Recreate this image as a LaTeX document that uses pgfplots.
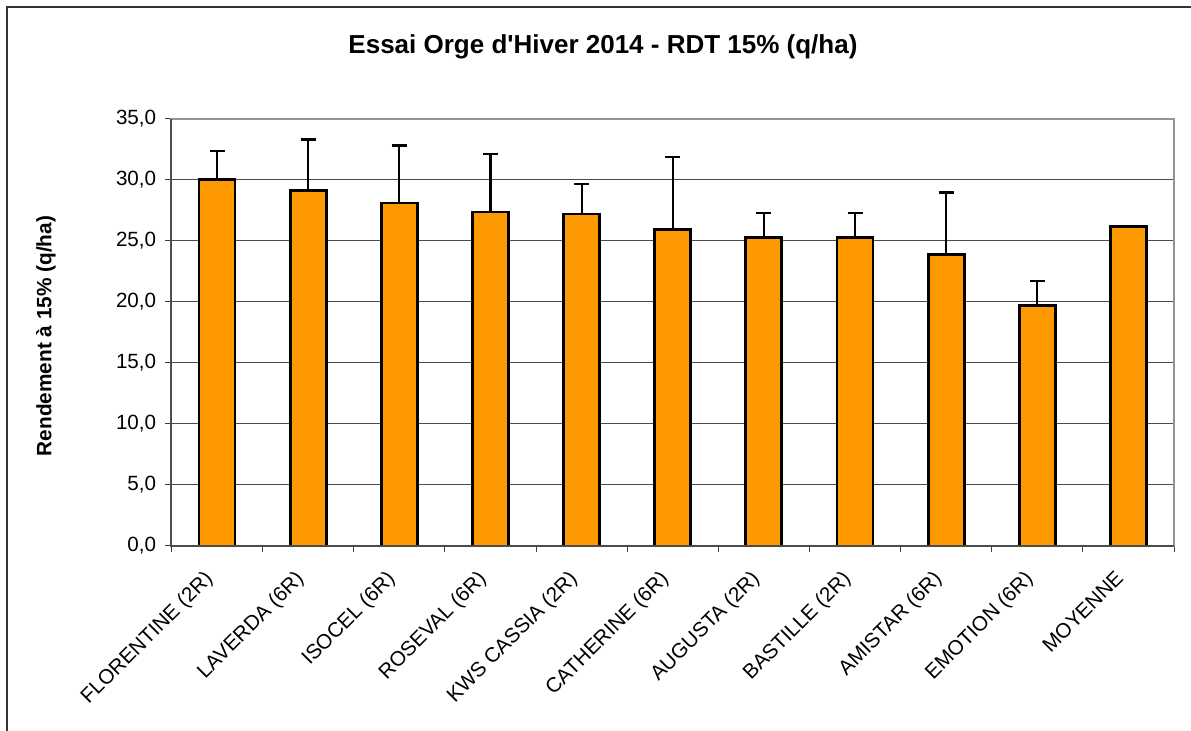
\documentclass[border=0pt]{standalone}
\usepackage{fontspec}
\setmainfont{Liberation Sans}
\usepackage{pgfplots}
\pgfplotsset{compat=1.18}
\usepackage{pgfplotstable}
\definecolor{barorange}{RGB}{255,153,0}
\pgfplotstableread{
x y e
0 30.00 2.35
1 29.10 4.20
2 28.10 4.70
3 27.35 4.75
4 27.20 2.45
5 25.95 5.90
6 25.27 2.03
7 25.27 2.03
8 23.90 5.05
9 19.67 2.03
}\varietes
\pgfplotstableread{
x y
10 26.18
}\moyenne
\begin{document}
\begin{tikzpicture}
\useasboundingbox (0,0) rectangle (595.5pt,365.5pt);
\fill[white] (0,0) rectangle (595.5pt,365.5pt);
\draw[line width=1pt, black!80] (3.35pt,-5pt) -- (3.35pt,362.2pt) -- (605pt,362.2pt);
\node[font=\fontsize{13}{15}\selectfont\bfseries] at (301.5pt,342pt) {Essai Orge d\textquotesingle Hiver 2014 - RDT 15\% (q/ha)};
\node[rotate=90, font=\fontsize{10.4}{12}\selectfont\bfseries] at (23pt,197.5pt) {Rendement à 15\% (q/ha)};
\begin{axis}[
  at={(85.75pt,92.5pt)}, anchor=south west, scale only axis,
  width=501.25pt, height=213.65pt,
  xmin=-0.5, xmax=10.5, ymin=0, ymax=35,
  ytick={0,5,...,35},
  yticklabel={\pgfmathprintnumber[fixed,fixed zerofill,precision=1,use comma,assume math mode=true]{\tick}},
  yticklabel style={font=\fontsize{10.3}{12}\selectfont, inner sep=1pt, xshift=-3.5pt},
  xtick={0,...,10},
  xticklabels={FLORENTINE (2R),LAVERDA (6R),ISOCEL (6R),ROSEVAL (6R),KWS CASSIA (2R),CATHERINE (6R),AUGUSTA (2R),BASTILLE (2R),AMISTAR (6R),EMOTION (6R),MOYENNE},
  xticklabel style={rotate=45, anchor=north east, inner sep=0pt, font=\fontsize{10.3}{12}\selectfont, xshift=-11pt, yshift=-1pt},
  minor xtick={-0.5,0.5,...,10.5},
  major x tick style={draw=none},
  xtick pos=bottom, ytick pos=left,
  tick align=outside,
  major tick length=3pt, minor tick length=3pt,
  tick style={black!75, line width=0.5pt},
  ymajorgrids,
  grid style={black!70, line width=0.5pt},
  axis line style={draw=gray!85, line width=1pt},
  clip=false,
]
\addplot[ybar, bar width=18pt, bar shift=0pt, fill=barorange, draw=black, line width=1.4pt,
  error bars/.cd, y dir=plus, y explicit,
  error bar style={line width=1.1pt, black},
  error mark options={rotate=90, line width=1.1pt, mark size=3.75pt, black}]
  table[x=x, y=y, y error=e] {\varietes};
\addplot[ybar, bar width=18pt, bar shift=0pt, fill=barorange, draw=black, line width=1.4pt]
  table[x=x, y=y] {\moyenne};
\draw[black!70, line width=1pt] (rel axis cs:0,1) -- (rel axis cs:0,0) -- (rel axis cs:1,0);
\end{axis}
\end{tikzpicture}
\end{document}
